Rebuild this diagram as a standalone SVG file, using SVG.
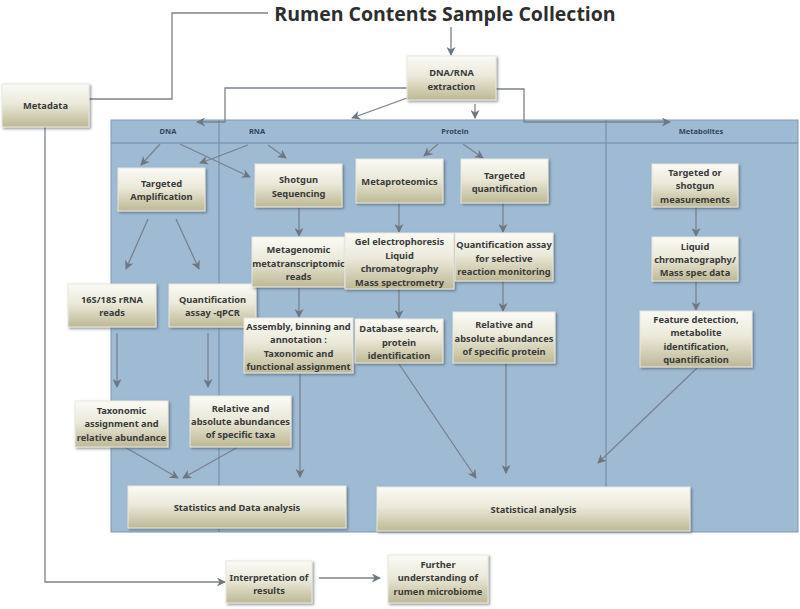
<svg xmlns="http://www.w3.org/2000/svg" width="800" height="609" viewBox="0 0 800 609">
<defs>
<linearGradient id="bg" x1="0" y1="0" x2="0" y2="1">
<stop offset="0" stop-color="#fbfbf6"/>
<stop offset="0.45" stop-color="#ebe9da"/>
<stop offset="1" stop-color="#bdb894"/>
</linearGradient>
<filter id="sh" x="-10%" y="-10%" width="130%" height="140%">
<feDropShadow dx="1.5" dy="1.5" stdDeviation="0.8" flood-color="#3a4350" flood-opacity="0.55"/>
</filter>
<marker id="ah" viewBox="0 0 10 10" refX="9" refY="5" markerWidth="10" markerHeight="9" markerUnits="userSpaceOnUse" orient="auto">
<path d="M0,0 L10,5 L0,10 L3,5 z" fill="#6e7680"/>
</marker>
</defs>
<style>
.box{fill:url(#bg);stroke:#e8e8e0;stroke-width:1;filter:url(#sh)}
.t{font-family:"Noto Sans","Open Sans",sans-serif;font-weight:bold;font-size:9.3px;fill:#3a3a3a;text-anchor:middle}
.h{font-family:"Noto Sans","Open Sans",sans-serif;font-weight:bold;font-size:7.5px;fill:#34465e;text-anchor:middle}
.ttl{font-family:"Open Sans","Noto Sans",sans-serif;font-weight:bold;font-size:19.5px;fill:#2e2e2e;text-anchor:middle}
.c{fill:none;stroke:#7a828c;stroke-width:1.3;marker-end:url(#ah)}
.dv{stroke:#6f88a3;stroke-width:1}
</style>
<rect width="800" height="609" fill="#ffffff"/>
<g id="panel">
<rect x="111" y="120" width="687" height="412" fill="#9fbad3" stroke="#7f98b2" stroke-width="1"/>
<line class="dv" x1="111" y1="143" x2="798" y2="143"/>
<line class="dv" x1="219" y1="120" x2="219" y2="532"/>
<line class="dv" x1="606" y1="120" x2="606" y2="487"/>
<text class="h" x="168" y="134">DNA</text>
<text class="h" x="257" y="134">RNA</text>
<text class="h" x="455" y="134">Protein</text>
<text class="h" x="701" y="134">Metabolites</text>
</g>
<g id="title"><text class="ttl" x="445" y="21">Rumen Contents Sample Collection</text></g>
<g id="connectors">
<path class="c" d="M268,13 H172 V99 H80"/>
<path class="c" d="M451,27 V55"/>
<path class="c" d="M407,88 H225 V122 H197"/>
<path class="c" d="M407,98 L352,118"/>
<path class="c" d="M475,104 V118"/>
<path class="c" d="M496,89 H524 V122 H670"/>
<path class="c" d="M160,144 L141,165"/>
<path class="c" d="M180,144 L250,177"/>
<path class="c" d="M248,145 L214,158 L200,163"/>
<path class="c" d="M268,145 L286,158"/>
<path class="c" d="M438,144 L424,156"/>
<path class="c" d="M463,144 L483,158"/>
<path class="c" d="M148,219 L126,269"/>
<path class="c" d="M176,219 L199,269"/>
<path class="c" d="M299,207 V236"/>
<path class="c" d="M399,203 V232"/>
<path class="c" d="M503,203 V232"/>
<path class="c" d="M696,207 V236"/>
<path class="c" d="M299,287 V317"/>
<path class="c" d="M399,289 V318"/>
<path class="c" d="M503,281 V311"/>
<path class="c" d="M696,281 V310"/>
<path class="c" d="M117,333 V387"/>
<path class="c" d="M208,333 V387"/>
<path class="c" d="M300,373 V477"/>
<path class="c" d="M125,447 L178,478"/>
<path class="c" d="M238,447 L183,478"/>
<path class="c" d="M399,364 L476,478"/>
<path class="c" d="M506,363 V473"/>
<path class="c" d="M697,368 L598,463"/>
<path class="c" d="M45,127 V582 H225"/>
<path class="c" d="M319,578 H380"/>
</g>
<g id="metadata"><rect class="box" x="2" y="84" width="87" height="43"/><text class="t" x="45.5" y="109">Metadata</text></g>
<g id="extraction"><rect class="box" x="407" y="56" width="89" height="44"/><text class="t" x="451.5" y="76">DNA/RNA</text><text class="t" x="451.5" y="90">extraction</text></g>
<g id="targeted-amp"><rect class="box" x="118" y="168" width="87" height="43"/><text class="t" x="161.5" y="187">Targeted</text><text class="t" x="161.5" y="200">Amplification</text></g>
<g id="shotgun"><rect class="box" x="255" y="164" width="87" height="43"/><text class="t" x="298.5" y="183">Shotgun</text><text class="t" x="298.5" y="197">Sequencing</text></g>
<g id="metaproteomics"><rect class="box" x="356" y="159" width="87" height="44"/><text class="t" x="399.5" y="185">Metaproteomics</text></g>
<g id="targeted-quant"><rect class="box" x="461" y="159" width="87" height="44"/><text class="t" x="504.5" y="179">Targeted</text><text class="t" x="504.5" y="192">quantification</text></g>
<g id="targeted-shotgun"><rect class="box" x="652" y="164" width="86" height="43"/><text class="t" x="695" y="176">Targeted or</text><text class="t" x="695" y="189">shotgun</text><text class="t" x="695" y="203">measurements</text></g>
<g id="rrna"><rect class="box" x="68" y="284" width="88" height="43"/><text class="t" x="112" y="303">16S/18S rRNA</text><text class="t" x="112" y="316">reads</text></g>
<g id="qpcr"><rect class="box" x="169" y="284" width="87" height="43"/><text class="t" x="212.5" y="303">Quantification</text><text class="t" x="212.5" y="316">assay -qPCR</text></g>
<g id="metagenomic"><rect class="box" x="252" y="237" width="93" height="50"/><text class="t" x="298.5" y="253">Metagenomic</text><text class="t" x="298.5" y="267">metatranscriptomic</text><text class="t" x="298.5" y="280">reads</text></g>
<g id="gel"><rect class="box" x="345" y="233" width="109" height="56"/><text class="t" x="399.5" y="245">Gel electrophoresis</text><text class="t" x="399.5" y="259">Liquid</text><text class="t" x="399.5" y="272">chromatography</text><text class="t" x="399.5" y="286">Mass spectrometry</text></g>
<g id="srm"><rect class="box" x="455" y="233" width="98" height="48"/><text class="t" x="504" y="248">Quantification assay</text><text class="t" x="504" y="262">for selective</text><text class="t" x="504" y="275">reaction monitoring</text></g>
<g id="lcms"><rect class="box" x="652" y="237" width="86" height="44"/><text class="t" x="695" y="250">Liquid</text><text class="t" x="695" y="263">chromatography/</text><text class="t" x="695" y="276">Mass spec data</text></g>
<g id="assembly"><rect class="box" x="244" y="318" width="109" height="55"/><text class="t" x="298.5" y="330">Assembly, binning and</text><text class="t" x="298.5" y="343">annotation :</text><text class="t" x="298.5" y="357">Taxonomic and</text><text class="t" x="298.5" y="370">functional assignment</text></g>
<g id="database"><rect class="box" x="355" y="319" width="88" height="44"/><text class="t" x="399" y="332">Database search,</text><text class="t" x="399" y="346">protein</text><text class="t" x="399" y="359">identification</text></g>
<g id="rel-protein"><rect class="box" x="453" y="312" width="102" height="51"/><text class="t" x="504" y="328">Relative and</text><text class="t" x="504" y="342">absolute abundances</text><text class="t" x="504" y="355">of specific protein</text></g>
<g id="feature"><rect class="box" x="640" y="311" width="112" height="56"/><text class="t" x="696" y="323">Feature detection,</text><text class="t" x="696" y="336">metabolite</text><text class="t" x="696" y="350">identification,</text><text class="t" x="696" y="363">quantification</text></g>
<g id="taxonomic"><rect class="box" x="75" y="401" width="93" height="46"/><text class="t" x="121.5" y="414">Taxonomic</text><text class="t" x="121.5" y="427">assignment and</text><text class="t" x="121.5" y="441">relative abundance</text></g>
<g id="rel-taxa"><rect class="box" x="190" y="396" width="101" height="51"/><text class="t" x="240.5" y="412">Relative and</text><text class="t" x="240.5" y="425">absolute abundances</text><text class="t" x="240.5" y="438">of specific taxa</text></g>
<g id="stats-data"><rect class="box" x="128" y="486" width="218" height="42"/><text class="t" x="237" y="511">Statistics and Data analysis</text></g>
<g id="stat-analysis"><rect class="box" x="377" y="487" width="313" height="44"/><text class="t" x="533.5" y="513">Statistical analysis</text></g>
<g id="interpretation"><rect class="box" x="226" y="561" width="86" height="42"/><text class="t" x="269" y="581">Interpretation of</text><text class="t" x="269" y="594">results</text></g>
<g id="further"><rect class="box" x="388" y="555" width="100" height="48"/><text class="t" x="438" y="568">Further</text><text class="t" x="438" y="581">understanding of</text><text class="t" x="438" y="595">rumen microbiome</text></g>
</svg>
